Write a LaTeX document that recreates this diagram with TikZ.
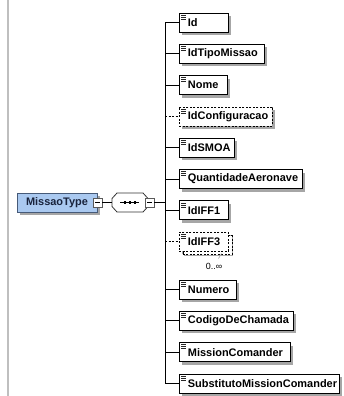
\documentclass[tikz,border=0pt]{standalone}
\usepackage{fontspec}
\setmainfont{Liberation Sans}
\usetikzlibrary{shadows}
\definecolor{typefill}{RGB}{170,201,240}
\definecolor{typeline}{RGB}{70,90,120}
\definecolor{typetext}{RGB}{25,35,60}
\tikzset{
  elem/.style={draw=black, fill=white, line width=0.8bp, anchor=west,
    minimum height=19bp, inner xsep=0pt, inner ysep=0pt, align=left,
    font=\bfseries\fontsize{11}{12}\selectfont,
    drop shadow={shadow xshift=3bp, shadow yshift=-3bp, fill=gray!70, opacity=1}},
  optelem/.style={elem, dash pattern=on 2bp off 1.5bp},
  multielem/.style={optelem, drop shadow={shadow xshift=5bp, shadow yshift=-5bp, fill=gray!70, opacity=1},
    copy shadow={shadow xshift=3.5bp, shadow yshift=-3.5bp, draw=black, fill=white, line width=0.8bp, dash pattern=on 2bp off 1.5bp}},
  link/.style={line width=0.8bp},
  optlink/.style={line width=0.8bp, dash pattern=on 2bp off 1.5bp},
  minusbox/.style={draw=gray!70!black, fill=white, line width=0.7bp, minimum size=9bp, inner sep=0pt},
}
\begin{document}
\begin{tikzpicture}[x=1bp,y=-1bp]
  \useasboundingbox (0,0) rectangle (344,396);
  % left margin line
  \draw[gray!50, line width=1.5bp] (8,0) -- (8,396);

  % complex type and its sequence
  \node[draw=typeline, fill=typefill, line width=0.8bp, minimum width=80bp, minimum height=19bp,
    inner sep=0pt, text=typetext, font=\bfseries\fontsize{11}{12}\selectfont,
    drop shadow={shadow xshift=3bp, shadow yshift=-3bp, fill=gray!70, opacity=1}] (mt) at (57,202.5) {MissaoType};
  \node[minusbox] (mtm) at (97.5,202.5) {};
  \draw[line width=0.7bp] ([xshift=-2.5bp]mtm.center) -- ([xshift=2.5bp]mtm.center);
  \node[minimum width=36bp, minimum height=19bp, inner sep=0pt] (seq) at (130,202.5) {};
  \draw[draw=gray!40!black, fill=white, line width=0.8bp]
    ([shift={(-18,-4)}]seq.center) -- ([shift={(-13,-9.5)}]seq.center) -- ([shift={(13,-9.5)}]seq.center)
    -- ([shift={(18,-4)}]seq.center) -- ([shift={(18,4)}]seq.center) -- ([shift={(13,9.5)}]seq.center)
    -- ([shift={(-13,9.5)}]seq.center) -- ([shift={(-18,4)}]seq.center) -- cycle;
  \draw[line width=0.8bp] ([xshift=-10bp]seq.center) -- ([xshift=9bp]seq.center);
  \foreach \d in {-5,0,5}
    \fill ([xshift=\d bp]seq.center) +(-1.4,-1.4) rectangle +(1.4,1.4);
  \node[minusbox] (seqm) at (149.5,202.5) {};
  \draw[line width=0.7bp] ([xshift=-2.5bp]seqm.center) -- ([xshift=2.5bp]seqm.center);
  \coordinate (tc) at (165,202.5);
  \draw[link] (mtm.east) -- (seq.west);
  \draw[link] (seqm.east) -- (tc);

  % child elements
  \foreach \n/\lab/\y/\w/\sty/\cs in {
      1/Id/22.5/49/elem/link,
      2/IdTipoMissao/53.8/85/elem/link,
      3/Nome/85.1/48/elem/link,
      4/IdConfiguracao/116.4/93/optelem/optlink,
      5/IdSMOA/147.7/55/elem/link,
      6/QuantidadeAeronave/179/123/elem/link,
      7/IdIFF1/210.3/49/elem/link,
      8/IdIFF3/241.6/49/multielem/optlink,
      9/Numero/289.5/57/elem/link,
      10/CodigoDeChamada/320.8/114/elem/link,
      11/MissionComander/352.1/111/elem/link,
      12/SubstitutoMissionComander/383.4/160/elem/link}{
    \coordinate (t\n) at (165,\y);
    \node[\sty, text width=\w bp] (e\n) at (179,\y) {\hspace*{8.5bp}\lab};
    \foreach \k in {2.5,4.5,6.5}
      \draw[gray!30!black, line width=0.6bp] ([xshift=2bp,yshift=-\k bp]e\n.north west) -- ++(5,0);
    \draw[\cs] (t\n) -- (e\n.west);
  }
  \draw[link] (t1) -- (t12);

  % occurrence of IdIFF3
  \node[font=\fontsize{9}{10}\selectfont, inner sep=0pt] (occ) at (214,266) {0..∞};
  \coordinate (oa) at (221.5,253.5);
  \coordinate (ob) at (218.5,258.5);
  \draw[gray!70, line width=0.6bp] (oa) -- (ob);
\end{tikzpicture}
\end{document}
